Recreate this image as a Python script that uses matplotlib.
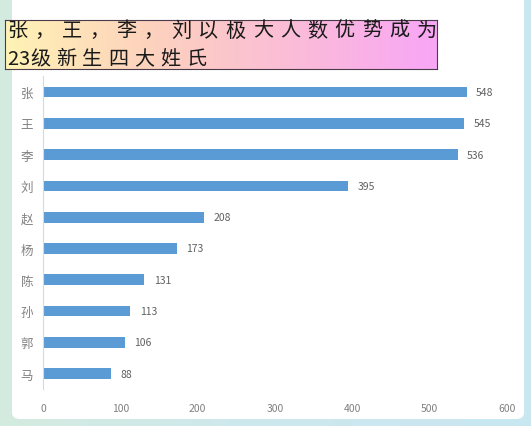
import numpy as np
import matplotlib
matplotlib.use('Agg')
import matplotlib.pyplot as plt
from matplotlib.patches import FancyBboxPatch

plt.rcParams['font.family'] = ['Noto Sans CJK SC', 'DejaVu Sans']

surnames = ['张', '王', '李', '刘', '赵', '杨', '陈', '孙', '郭', '马']
counts = [548, 545, 536, 395, 208, 173, 131, 113, 106, 88]
xticks = [0, 100, 200, 300, 400, 500, 600]
title_lines = ['张，王，李，刘以极大人数优势成为', '23级新生四大姓氏']

W, H = 531, 427
fig = plt.figure(figsize=(W / 100, H / 100), dpi=100)

# page background: green at left fading to blue at right
bg = fig.add_axes([0, 0, 1, 1], zorder=-10)
grad = np.linspace(0, 1, 256).reshape(1, -1)
cmap = matplotlib.colors.LinearSegmentedColormap.from_list('bg', ['#d4ebdf', '#cde8ee', '#c9e7f1'])
bg.imshow(grad, aspect='auto', cmap=cmap, extent=[0, 1, 0, 1])
bg.set_xlim(0, 1)
bg.set_ylim(0, 1)
bg.axis('off')
panel = FancyBboxPatch((12 / W, 7 / H), 512 / W, 440 / H,
                       boxstyle='round,pad=0,rounding_size=0.015',
                       facecolor='white', edgecolor='none', transform=bg.transAxes)
bg.add_patch(panel)

ax = fig.add_axes([43 / W, 1 - 390.3 / H, 464 / W, 312.9 / H])
ypos = np.arange(len(surnames))
ax.barh(ypos, counts, height=0.34, color='#5b9bd5')
for y, c in zip(ypos, counts):
    ax.text(c + 12, y, str(c), va='center', ha='left', fontsize=7.5, color='#606060')

ax.set_xlim(0, 600)
ax.set_ylim(9.5, -0.5)
ax.set_yticks(ypos)
ax.set_yticklabels(surnames, fontsize=9, color='#808080')
ax.set_xticks(xticks)
ax.set_xticklabels([str(t) for t in xticks], fontsize=7.5, color='#808080')
ax.tick_params(axis='both', length=0)
ax.tick_params(axis='x', pad=10)
ax.tick_params(axis='y', pad=7)
for s in ['top', 'right', 'bottom']:
    ax.spines[s].set_visible(False)
ax.spines['left'].set_color('#d9d9d9')
ax.patch.set_alpha(0)

# title box with yellow-to-pink gradient
tb = fig.add_axes([5 / W, 1 - 70 / H, 432 / W, 49 / H])
tcmap = matplotlib.colors.LinearSegmentedColormap.from_list(
    'tb', ['#fff3b5', '#fdd2bd', '#fbbcd8', '#f8a6f6'])
tb.imshow(grad, aspect='auto', cmap=tcmap, extent=[0, 1, 0, 1])
tb.set_xlim(0, 1)
tb.set_ylim(0, 1)
tb.set_xticks([])
tb.set_yticks([])
for s in tb.spines.values():
    s.set_color('#4a3a4a')
    s.set_linewidth(0.8)

# letter-spaced title, one glyph at a time (pixel coordinates)
line_y = [31, 60]
line_step = [27.3, 26.0]
for line, yy, step in zip(title_lines, line_y, line_step):
    x = 7
    for ch in line:
        fig.text(x / W, 1 - yy / H, ch, ha='left', va='center', fontsize=14.5,
                 color='#1a1a1a')
        x += 11.5 if ch.isdigit() else step

fig.savefig('out.png', dpi=100)
